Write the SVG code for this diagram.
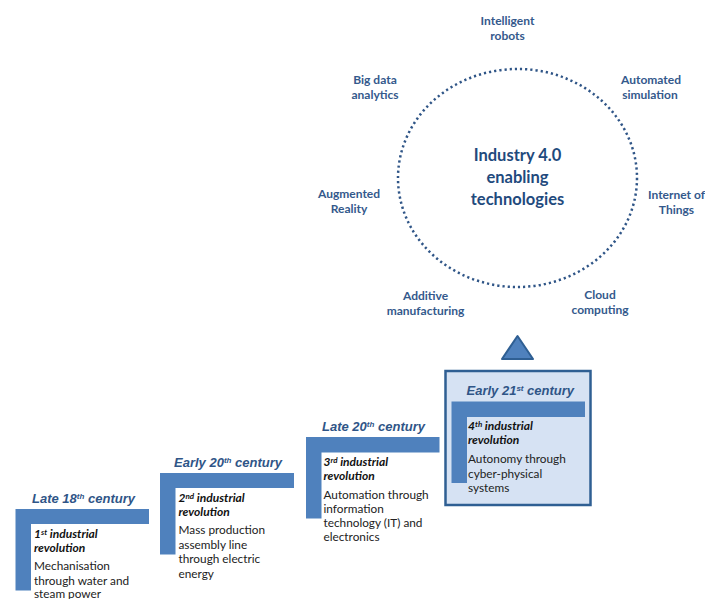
<svg xmlns="http://www.w3.org/2000/svg" width="705" height="599" viewBox="0 0 705 599">
<style>
text{font-family:Lato,"Liberation Sans",sans-serif}
.tech{font-size:12px;font-weight:700;fill:#34598c;text-anchor:middle}
.hub{font-size:16.5px;font-weight:700;fill:#1f4a7d;text-anchor:middle}
.era{font-family:"Liberation Sans",Arial,sans-serif;font-size:13px;font-weight:700;font-style:italic;fill:#2f5587}
.rev{font-size:12px;font-weight:700;font-style:italic;fill:#111}
.desc{font-size:11.8px;fill:#222}
.bar{fill:#4f81bd}
.s{font-size:8px}
</style>
<g id="connectors"><path d="M517.5 336L533 359H502Z" fill="#4f81bd" stroke="#2f5f93" stroke-width="2" stroke-linejoin="round"/></g>
<g id="hub">
<ellipse cx="517.5" cy="178" rx="119.5" ry="109" fill="none" stroke="#2f5587" stroke-width="2.5" stroke-dasharray="2.2 3"/>
<text class="hub" x="517.5" y="161">Industry 4.0</text>
<text class="hub" x="517.5" y="183">enabling</text>
<text class="hub" x="517.5" y="205">technologies</text>
</g>
<g id="tech-robots"><text class="tech" x="507.5" y="25">Intelligent</text><text class="tech" x="507.5" y="40">robots</text></g>
<g id="tech-bigdata"><text class="tech" x="375" y="84">Big data</text><text class="tech" x="375" y="99">analytics</text></g>
<g id="tech-simulation"><text class="tech" x="651" y="84">Automated</text><text class="tech" x="650" y="99">simulation</text></g>
<g id="tech-ar"><text class="tech" x="349" y="198">Augmented</text><text class="tech" x="349" y="213">Reality</text></g>
<g id="tech-iot"><text class="tech" x="676.500" y="199">Internet of</text><text class="tech" x="676.500" y="214">Things</text></g>
<g id="tech-additive"><text class="tech" x="425.500" y="300">Additive</text><text class="tech" x="425.500" y="315">manufacturing</text></g>
<g id="tech-cloud"><text class="tech" x="600" y="299">Cloud</text><text class="tech" x="600" y="314">computing</text></g>
<g id="rev1">
<text class="era" x="32" y="503">Late 18<tspan class="s" dy="-4">th</tspan><tspan dy="4"> century</tspan></text>
<path class="bar" d="M15.500 509H149V524H31V590.500H15.500Z"/>
<text class="rev" x="34" y="537.5">1<tspan class="s" dy="-3">st</tspan><tspan dy="3"> industrial</tspan></text>
<text class="rev" x="34" y="551.5">revolution</text>
<text class="desc" x="34" y="570">Mechanisation</text><text class="desc" x="34" y="585">through water and</text><text class="desc" x="34" y="598">steam power</text>
</g>
<g id="rev2">
<text class="era" x="174" y="467">Early 20<tspan class="s" dy="-4">th</tspan><tspan dy="4"> century</tspan></text>
<path class="bar" d="M160 473H294V488H175.500V554.500H160Z"/>
<text class="rev" x="178.500" y="501.500">2<tspan class="s" dy="-3">nd</tspan><tspan dy="3"> industrial</tspan></text>
<text class="rev" x="178.500" y="515.500">revolution</text>
<text class="desc" x="178.500" y="534">Mass production</text><text class="desc" x="178.500" y="549">assembly line</text><text class="desc" x="178.500" y="563">through electric</text><text class="desc" x="178.500" y="578">energy</text>
</g>
<g id="rev3">
<text class="era" x="322" y="431">Late 20<tspan class="s" dy="-4">th</tspan><tspan dy="4"> century</tspan></text>
<path class="bar" d="M306 437H439.500V452.500H321.500V518.500H306Z"/>
<text class="rev" x="323.500" y="466">3<tspan class="s" dy="-3">rd</tspan><tspan dy="3"> industrial</tspan></text>
<text class="rev" x="323.500" y="480">revolution</text>
<text class="desc" x="323.500" y="499">Automation through</text><text class="desc" x="323.500" y="513">information</text><text class="desc" x="323.500" y="527">technology (IT) and</text><text class="desc" x="323.500" y="541">electronics</text>
</g>
<g id="rev4">
<rect x="445.500" y="371" width="145" height="134" fill="#d6e2f3" stroke="#2f5f93" stroke-width="2.500"/>
<text class="era" x="466.500" y="395">Early 21<tspan class="s" dy="-4">st</tspan><tspan dy="4"> century</tspan></text>
<path class="bar" d="M451.500 401.500H585V417H467V483H451.500Z"/>
<text class="rev" x="468" y="430">4<tspan class="s" dy="-3">th</tspan><tspan dy="3"> industrial</tspan></text>
<text class="rev" x="468" y="444">revolution</text>
<text class="desc" x="468" y="463">Autonomy through</text><text class="desc" x="468" y="478">cyber-physical</text><text class="desc" x="468" y="492">systems</text>
</g>
</svg>
